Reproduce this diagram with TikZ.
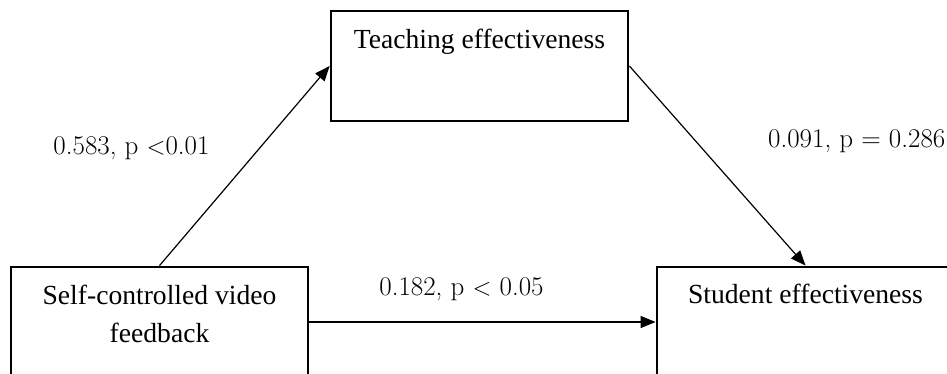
\documentclass[tikz,border=0pt]{standalone}
\usepackage{fontspec}
\newfontfamily\boxfont{Liberation Serif}
\usetikzlibrary{arrows.meta}
\begin{document}
\begin{tikzpicture}[x=1pt,y=-1pt,
  varbox/.style={draw=black,line width=2.8pt,minimum width=297pt,minimum height=110pt,inner sep=0pt},
  boxtext/.style={font=\boxfont\fontsize{27.6}{38}\selectfont,inner sep=0pt,align=center},
  coef/.style={font=\fontsize{27}{32}\selectfont,inner sep=0pt,anchor=base},
  path/.style={line width=1.2pt,-{Triangle[length=15pt,width=12pt]}}]
\useasboundingbox (0,0) rectangle (947,374);
\clip (0,0) rectangle (947,374);
\node[varbox] (teach) at (479.5,66) {};
\node[varbox] (self) at (159.5,322) {};
\node[varbox] (stud) at (805.5,322) {};
\node[boxtext,anchor=base] (teachtext) at ([yshift=-39pt]teach.north) {Teaching effectiveness};
\node[boxtext,anchor=north] (selftext) at ([yshift=-19pt]self.north) {Self-controlled video\\feedback};
\node[boxtext,anchor=base] (studtext) at ([yshift=-38pt]stud.north) {Student effectiveness};
\draw[path] (self.north) -- (teach.west);
\draw[path] (teach.east) -- (stud.north);
\draw[path] (self.east) -- (stud.west);
\node[coef] (la) at (131.5,155) {0.583, p $<$0.01};
\node[coef,anchor=base west] (lb) at (768,148) {0.091, p = 0.286};
\node[coef] (lc) at (461.5,295) {0.182, p $<$ 0.05};
\end{tikzpicture}
\end{document}
